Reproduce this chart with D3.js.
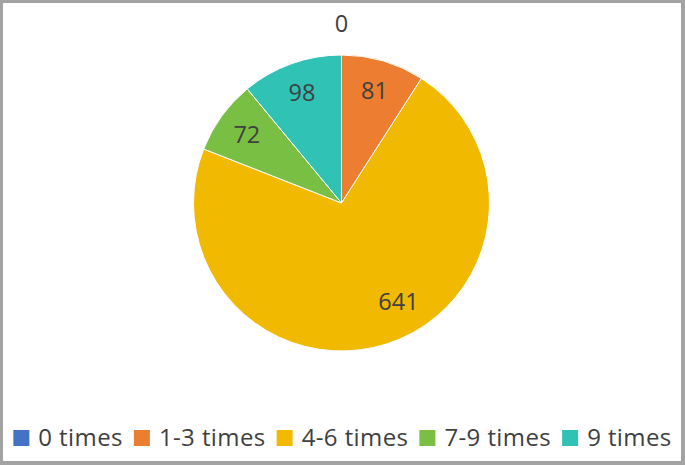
<!DOCTYPE html>
<html>
<head>
<meta charset="utf-8">
<script src="https://cdn.jsdelivr.net/npm/d3@7"></script>
<style>
  html, body { margin: 0; padding: 0; background: #fff; }
  svg { display: block; }
</style>
</head>
<body>
<script>
const categories = ["0 times", "1-3 times", "4-6 times", "7-9 times", "9 times"];
const values = [0, 81, 641, 72, 98];
const colors = ["#4472C4", "#ED7D31", "#F2B901", "#78BF43", "#2FC2B5"];

const W = 685, H = 465;
const svg = d3.select("body").append("svg").attr("width", W).attr("height", H);

// frame
svg.append("rect").attr("x", 0).attr("y", 0).attr("width", W).attr("height", H).attr("fill", "#A3A3A3");
svg.append("rect").attr("x", 3).attr("y", 3).attr("width", W - 7).attr("height", H - 7).attr("fill", "#fff");

const cx = 341.5, cy = 203, r = 148;
const data = categories.map((c, i) => ({ cat: c, value: values[i], color: colors[i] }));

const pie = d3.pie().value(d => d.value).sort(null);
const arcs = pie(data);
const arc = d3.arc().innerRadius(0).outerRadius(r);

const g = svg.append("g").attr("transform", `translate(${cx},${cy})`);
g.selectAll("path").data(arcs).join("path")
  .attr("d", arc)
  .attr("fill", d => d.data.color)
  .attr("stroke", "#fff")
  .attr("stroke-width", 1);

const font = "'Open Sans', 'Noto Sans', sans-serif";
g.selectAll("text.lbl").data(arcs).join("text")
  .attr("class", "lbl")
  .attr("transform", d => {
    let a = (d.startAngle + d.endAngle) / 2;
    // best-fit style: very large slices get their label pulled toward the start
    if (d.endAngle - d.startAngle > Math.PI) a -= 0.21;
    const rr = d.value === 0 ? r + 31 : r * (d.endAngle - d.startAngle > Math.PI ? 0.77 : 0.79);
    return `translate(${rr * Math.sin(a)},${-rr * Math.cos(a)})`;
  })
  .attr("text-anchor", "middle")
  .attr("dy", "0.36em")
  .attr("font-family", font)
  .attr("font-size", 23.5)
  .attr("fill", "#404040")
  .text(d => d.data.value);

// legend
const legend = svg.append("g");
const sq = 16, gapT = 9, gapItem = 11, fs = 24;
const items = legend.selectAll("g").data(data).join("g");
items.append("rect").attr("width", sq).attr("height", sq).attr("y", -sq).attr("fill", d => d.color);
items.append("text")
  .attr("x", sq + gapT)
  .attr("y", 0)
  .attr("dy", "-0.02em")
  .attr("font-family", font)
  .attr("font-size", fs)
  .attr("letter-spacing", "0.4px")
  .attr("fill", "#404040")
  .text(d => d.cat);
let x = 0;
items.each(function () {
  const w = this.getBBox().width;
  d3.select(this).attr("transform", `translate(${x},0)`);
  x += w + gapItem;
});
const total = x - gapItem;
legend.attr("transform", `translate(${(W - total) / 2},446)`);
</script>
</body>
</html>
